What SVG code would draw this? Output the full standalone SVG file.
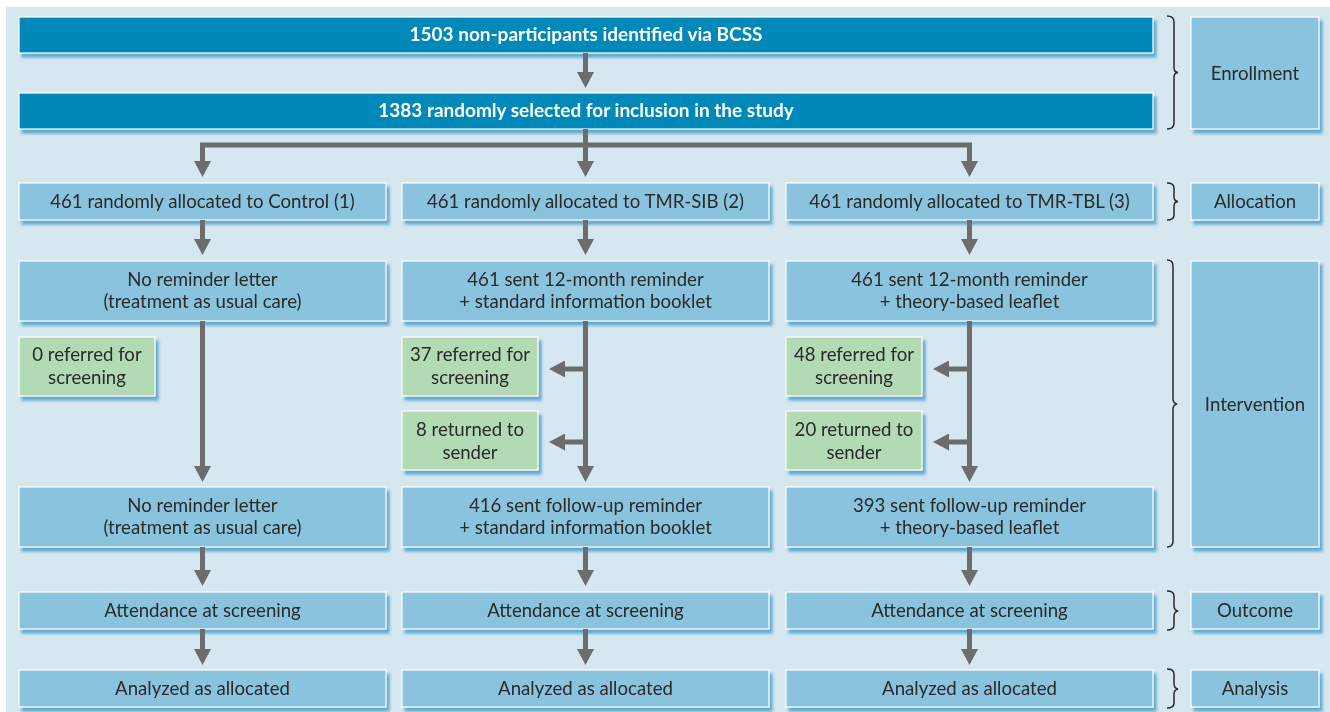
<svg xmlns="http://www.w3.org/2000/svg" width="1330" height="712" viewBox="0 0 1330 712">
<defs>
<filter id="sh" x="-5%" y="-20%" width="115%" height="150%">
<feDropShadow dx="3" dy="4" stdDeviation="1.5" flood-color="#4e9fcb" flood-opacity="0.85"/>
</filter>
<marker id="ah" viewBox="0 0 16 17" refX="6" refY="8.5" markerWidth="16" markerHeight="17" markerUnits="userSpaceOnUse" orient="auto">
<path d="M0,0 L16,8.5 L0,17 z" fill="#6b6c6e"/>
</marker>
<style>
.dark{fill:#0088b8;stroke:#ffffff;stroke-width:1.2}
.lb{fill:#89c3de;stroke:#ffffff;stroke-width:1.2}
.gr{fill:#b2dab5;stroke:#ffffff;stroke-width:1.2}
text{font-family:Lato,"Open Sans","Liberation Sans",sans-serif;font-size:18.6px;fill:#2a2a2a;text-anchor:middle}
.bt{fill:#ffffff;font-weight:bold;font-size:19px}
.con{fill:none;stroke:#6b6c6e;stroke-width:5;marker-end:url(#ah)}
.br{fill:none;stroke:#2a2a2a;stroke-width:1.5}
</style>
</defs>
<rect x="0" y="0" width="1330" height="712" fill="#ffffff"/>
<rect x="6" y="7" width="1324" height="705" fill="#d6e7f0"/>

<g id="n1503" filter="url(#sh)"><rect class="dark" x="19" y="17" width="1134" height="36"/><text class="bt" x="586" y="41">1503 non-participants identified via BCSS</text></g>
<g id="n1383" filter="url(#sh)"><rect class="dark" x="19" y="93" width="1134" height="36"/><text class="bt" x="586" y="117">1383 randomly selected for inclusion in the study</text></g>

<g id="a1" filter="url(#sh)"><rect class="lb" x="19" y="183" width="367" height="37"/><text x="202.5" y="208">461 randomly allocated to Control (1)</text></g>
<g id="a2" filter="url(#sh)"><rect class="lb" x="402" y="183" width="367" height="37"/><text x="585.5" y="208">461 randomly allocated to TMR-SIB (2)</text></g>
<g id="a3" filter="url(#sh)"><rect class="lb" x="786" y="183" width="367" height="37"/><text x="969.5" y="208">461 randomly allocated to TMR-TBL (3)</text></g>

<g id="i1" filter="url(#sh)"><rect class="lb" x="19" y="261" width="367" height="60"/><text x="202.5" y="286">No reminder letter</text><text x="202.5" y="308">(treatment as usual care)</text></g>
<g id="i2" filter="url(#sh)"><rect class="lb" x="402" y="261" width="367" height="60"/><text x="585.5" y="286">461 sent 12-month reminder</text><text x="585.5" y="308">+ standard information booklet</text></g>
<g id="i3" filter="url(#sh)"><rect class="lb" x="786" y="261" width="367" height="60"/><text x="969.5" y="286">461 sent 12-month reminder</text><text x="969.5" y="308">+ theory-based leaflet</text></g>

<g id="g1" filter="url(#sh)"><rect class="gr" x="19" y="337" width="136" height="59"/><text x="87" y="361">0 referred for</text><text x="87" y="384">screening</text></g>
<g id="g2" filter="url(#sh)"><rect class="gr" x="402" y="337" width="136" height="59"/><text x="470" y="361">37 referred for</text><text x="470" y="384">screening</text></g>
<g id="g3" filter="url(#sh)"><rect class="gr" x="402" y="411" width="136" height="59"/><text x="470" y="436">8 returned to</text><text x="470" y="459">sender</text></g>
<g id="g4" filter="url(#sh)"><rect class="gr" x="786" y="337" width="136" height="59"/><text x="854" y="361">48 referred for</text><text x="854" y="384">screening</text></g>
<g id="g5" filter="url(#sh)"><rect class="gr" x="786" y="411" width="136" height="59"/><text x="854" y="436">20 returned to</text><text x="854" y="459">sender</text></g>

<g id="f1" filter="url(#sh)"><rect class="lb" x="19" y="487" width="367" height="60"/><text x="202.5" y="512">No reminder letter</text><text x="202.5" y="534">(treatment as usual care)</text></g>
<g id="f2" filter="url(#sh)"><rect class="lb" x="402" y="487" width="367" height="60"/><text x="585.5" y="512">416 sent follow-up reminder</text><text x="585.5" y="534">+ standard information booklet</text></g>
<g id="f3" filter="url(#sh)"><rect class="lb" x="786" y="487" width="367" height="60"/><text x="969.5" y="512">393 sent follow-up reminder</text><text x="969.5" y="534">+ theory-based leaflet</text></g>

<g id="o1" filter="url(#sh)"><rect class="lb" x="19" y="592" width="367" height="37"/><text x="202.5" y="617">Attendance at screening</text></g>
<g id="o2" filter="url(#sh)"><rect class="lb" x="402" y="592" width="367" height="37"/><text x="585.5" y="617">Attendance at screening</text></g>
<g id="o3" filter="url(#sh)"><rect class="lb" x="786" y="592" width="367" height="37"/><text x="969.5" y="617">Attendance at screening</text></g>

<g id="z1" filter="url(#sh)"><rect class="lb" x="19" y="670" width="367" height="37"/><text x="202.5" y="695">Analyzed as allocated</text></g>
<g id="z2" filter="url(#sh)"><rect class="lb" x="402" y="670" width="367" height="37"/><text x="585.5" y="695">Analyzed as allocated</text></g>
<g id="z3" filter="url(#sh)"><rect class="lb" x="786" y="670" width="367" height="37"/><text x="969.5" y="695">Analyzed as allocated</text></g>

<g id="lEnroll" filter="url(#sh)"><rect class="lb" x="1191" y="17" width="128" height="112"/><text x="1255" y="80">Enrollment</text></g>
<g id="lAlloc" filter="url(#sh)"><rect class="lb" x="1191" y="183" width="128" height="37"/><text x="1255" y="208">Allocation</text></g>
<g id="lInterv" filter="url(#sh)"><rect class="lb" x="1191" y="261" width="128" height="286"/><text x="1255" y="411">Intervention</text></g>
<g id="lOut" filter="url(#sh)"><rect class="lb" x="1191" y="592" width="128" height="37"/><text x="1255" y="617">Outcome</text></g>
<g id="lAnal" filter="url(#sh)"><rect class="lb" x="1191" y="670" width="128" height="37"/><text x="1255" y="695">Analysis</text></g>

<g id="braces">
<path class="br" d="M1167,16 Q1174,16 1174,22 V68 Q1174,72 1178,72.5 Q1174,73 1174,77 V123 Q1174,129 1167,129"/>
<path class="br" d="M1167,183 Q1174,183 1174,188 V197 Q1174,201 1178,201.5 Q1174,202 1174,206 V215 Q1174,220 1167,220"/>
<path class="br" d="M1167,260 Q1173,260 1173,266 V399 Q1173,403 1177,404 Q1173,405 1173,409 V541 Q1173,547 1167,547"/>
<path class="br" d="M1167,591 Q1174,591 1174,596 V606 Q1174,610 1178,611 Q1174,612 1174,616 V625 Q1174,630 1167,630"/>
<path class="br" d="M1167,669 Q1174,669 1174,674 V684 Q1174,688 1178,689 Q1174,690 1174,694 V703 Q1174,708 1167,708"/>
</g>

<g id="connectors">
<path class="con" d="M585.5,53 V78"/>
<path class="con" d="M585.5,145 H202.5 V167"/>
<path class="con" d="M585.5,145 H969.5 V167"/>
<path class="con" d="M585.5,129 V167"/>
<path class="con" d="M202.5,220 V245"/>
<path class="con" d="M585.5,220 V245"/>
<path class="con" d="M969.5,220 V245"/>
<path class="con" d="M202.5,321 V472"/>
<path class="con" d="M585.5,321 V472"/>
<path class="con" d="M969.5,321 V472"/>
<path class="con" d="M585.5,369 H559"/>
<path class="con" d="M585.5,442 H559"/>
<path class="con" d="M969.5,369 H943"/>
<path class="con" d="M969.5,442 H943"/>
<path class="con" d="M202.5,547 V576"/>
<path class="con" d="M585.5,547 V576"/>
<path class="con" d="M969.5,547 V576"/>
<path class="con" d="M202.5,629 V655"/>
<path class="con" d="M585.5,629 V655"/>
<path class="con" d="M969.5,629 V655"/>
</g>
</svg>
